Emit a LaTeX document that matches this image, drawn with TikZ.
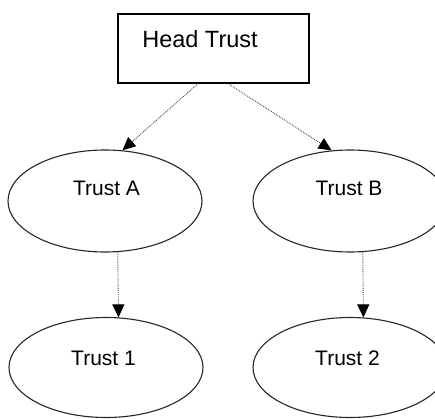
\documentclass[tikz,border=0pt]{standalone}
\usepackage{fontspec}
\setmainfont{Liberation Sans}
\usetikzlibrary{arrows.meta,shapes.geometric,calc}
\tikzstyle{trust}=[draw=black!85,line width=1.1pt,ellipse,minimum width=194pt,minimum height=102pt,inner sep=0pt]
\tikzstyle{lbl}=[anchor=base,inner sep=0pt,font=\fontsize{21}{25}\selectfont]
\tikzstyle{link}=[densely dotted,black!70,line width=0.9pt,-{Triangle[width=12pt,length=13pt,color=black]}]

\begin{document}
\begin{tikzpicture}[x=1pt,y=1pt]
\useasboundingbox (0,0) rectangle (435,418);
% head of the tree
\node [draw,line width=1.1pt,minimum width=191pt,minimum height=69pt,inner sep=0pt] (head) at (213.5,369.5) {};
\node [lbl,font=\fontsize{23.5}{28}\selectfont] (headtxt) at (200,370) {Head Trust};
% trusts
\node [trust] (ta) at (105,217) {};
\node [trust] (tb) at (350,217) {};
\node [trust,minimum height=100pt] (t1) at (106,50.5) {};
\node [trust,minimum height=100pt] (t2) at (350,50.5) {};
\node [lbl] (tatxt) at (106.5,223) {Trust A};
\node [lbl] (tbtxt) at (349,223) {Trust B};
\node [lbl] (t1txt) at (103.5,53) {Trust 1};
\node [lbl] (t2txt) at (347.5,53) {Trust 2};
% links
\draw [link] ($(head.south)+(-15.5,0)$) -- (ta.71);
\draw [link] ($(head.south)+(14.5,0)$) -- (tb.110);
\draw [link] (ta.-76) -- (t1.76);
\draw [link] (tb.-76) -- (t2.75);
\end{tikzpicture}
\end{document}
